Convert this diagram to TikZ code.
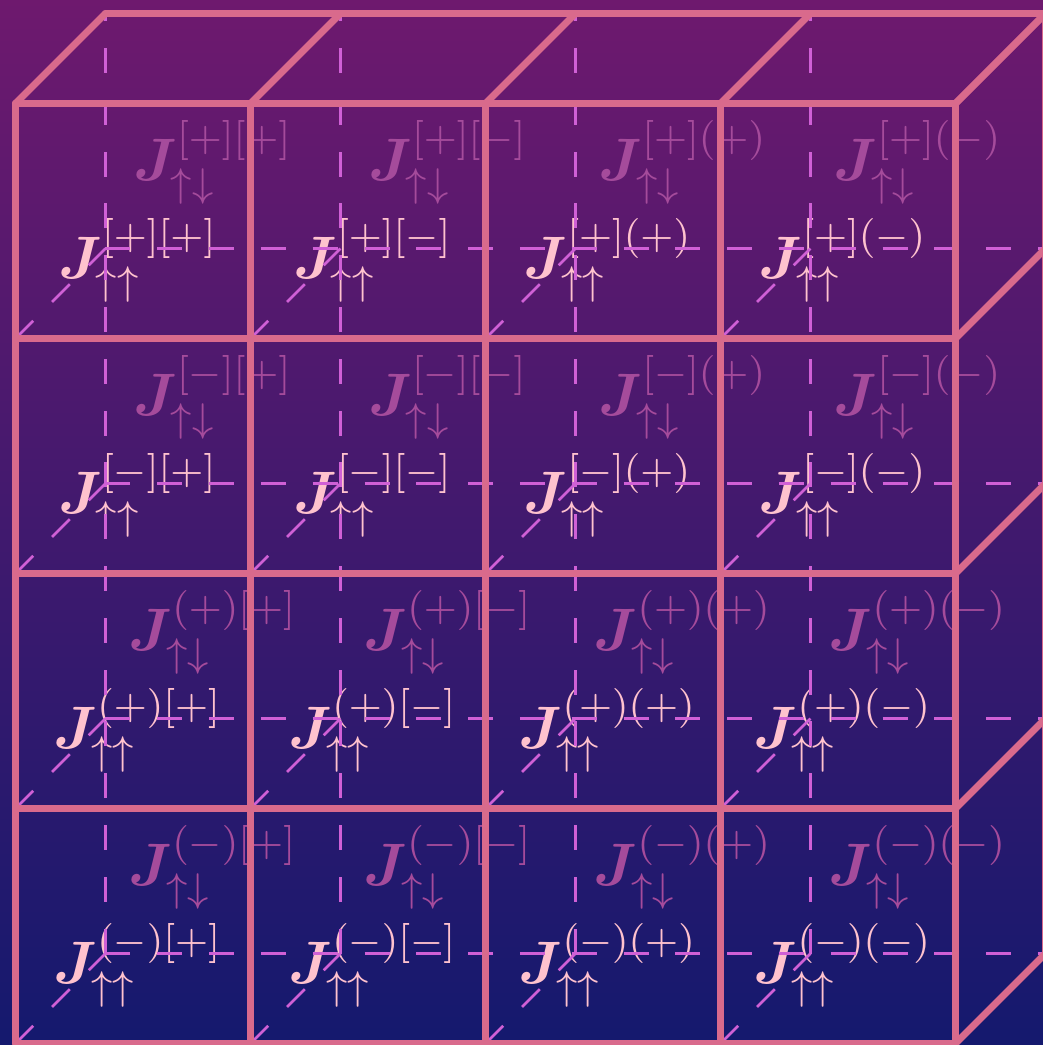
\documentclass[tikz,border=0pt]{standalone}
\usepackage{bm}
\definecolor{bgtop}{RGB}{110,25,110}
\definecolor{bgbot}{RGB}{20,25,110}
\definecolor{edge}{RGB}{217,106,140}
\definecolor{hid}{RGB}{208,96,214}
\definecolor{fronttxt}{RGB}{255,194,206}
\definecolor{backtxt}{RGB}{165,75,155}
\begin{document}
\begin{tikzpicture}[x=0.2pt,y=-0.2pt,
  solidedge/.style={draw=edge,line width=1.4pt,line cap=round,line join=round},
  hidden/.style={draw=hid,line width=0.5pt,dash pattern=on 5pt off 5.36pt},
  lab/.style={inner sep=0pt,anchor=center,font=\fontsize{12}{14}\selectfont},
  frontlab/.style={lab,text=fronttxt},
  backlab/.style={lab,text=backtxt}]
\useasboundingbox (0,0) rectangle (1043,1045);
\clip (0,0) rectangle (1043,1045);
\shade[top color=bgtop,bottom color=bgbot] (0,0) rectangle (1043,1045);
% back labels
\foreach \a/\sa in {0/{[+]},1/{[-]},2/{(+)},3/{(-)}}{
  \foreach \b/\sb in {0/{[+]},1/{[-]},2/{(+)},3/{(-)}}{
    \node[backlab] (b-\a-\b) at ({213+235*\b},{162+235*\a}) {$\bm{J}^{\sa\sb}_{\uparrow\downarrow}$};
  }
}
% front labels
\foreach \a/\sa in {0/{[+]},1/{[-]},2/{(+)},3/{(-)}}{
  \foreach \b/\sb in {0/{[+]},1/{[-]},2/{(+)},3/{(-)}}{
    \node[frontlab] (f-\a-\b) at ({138+235*\b},{260+235*\a}) {$\bm{J}^{\sa\sb}_{\uparrow\uparrow}$};
  }
}
% hidden back-face lines
\foreach \i in {0,...,3}{
  \draw[hidden] ({105.5+235*\i},953.5) -- ({105.5+235*\i},13.5);
}
\foreach \j in {1,...,4}{
  \draw[hidden] (105.5,{13.5+235*\j}) -- (1045.5,{13.5+235*\j});
}
\foreach \i in {0,...,3}{
  \foreach \j in {1,...,4}{
    \draw[hidden] ({15.5+235*\i},{103.5+235*\j}) -- ++(90,-90);
  }
}
% visible edges
\foreach \i in {0,...,4}{
  \draw[solidedge] ({15.5+235*\i},103.5) -- ({15.5+235*\i},1043.5);
  \draw[solidedge] (15.5,{103.5+235*\i}) -- (955.5,{103.5+235*\i});
  \draw[solidedge] ({15.5+235*\i},103.5) -- ++(90,-90);
  \draw[solidedge] (955.5,{103.5+235*\i}) -- ++(90,-90);
}
\draw[solidedge] (105.5,13.5) -- (1045.5,13.5) -- (1045.5,953.5);
\end{tikzpicture}
\end{document}
